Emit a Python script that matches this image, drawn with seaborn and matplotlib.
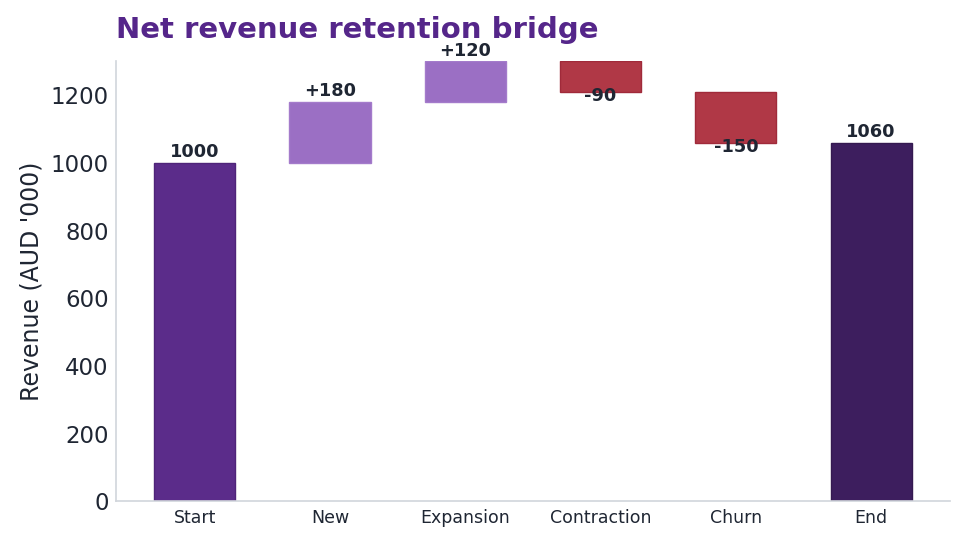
import matplotlib
matplotlib.use("Agg")
import matplotlib.pyplot as plt
import seaborn as sns
import numpy as np

categories = ["Start", "New", "Expansion", "Contraction", "Churn", "End"]
deltas = [1000, 180, 120, -90, -150, 1060]
kinds = ["total", "up", "up", "down", "down", "total"]
labels = ["1000", "+180", "+120", "-90", "-150", "1060"]

colors = {"Start": "#5B2C8A", "End": "#3D1E5E", "up": "#9B6FC4", "down": "#B03846"}
edges = {"Start": "#4F2479", "End": "#341950", "up": "#A47BCB", "down": "#A02A3A"}

# compute bottoms / heights
bottoms, heights = [], []
running = 0
for cat, d, k in zip(categories, deltas, kinds):
    if k == "total":
        bottoms.append(0)
        heights.append(d)
        running = d
    elif d >= 0:
        bottoms.append(running)
        heights.append(d)
        running += d
    else:
        bottoms.append(running + d)
        heights.append(-d)
        running += d

sns.set_style("white")
plt.rcParams["font.family"] = ["DejaVu Sans"]
fig, ax = plt.subplots(figsize=(9.8, 5.57), dpi=100)
fig.subplots_adjust(left=0.118, right=0.969, top=0.89, bottom=0.1)

sns.barplot(x=categories, y=heights, bottom=bottoms, width=0.6, ax=ax,
            color="#9B6FC4", linewidth=1)

for patch, cat, k in zip(ax.patches, categories, kinds):
    key = cat if k == "total" else k
    patch.set_facecolor(colors[key])
    patch.set_edgecolor(edges[key])

text_color = "#1F2633"
for i, (b, h, k, lab) in enumerate(zip(bottoms, heights, kinds, labels)):
    if k == "down":
        ax.annotate(lab, (i, b), xytext=(0, -3), textcoords="offset points",
                    ha="center", va="center", fontsize=12.8, fontweight="bold", color=text_color)
    else:
        ax.annotate(lab, (i, b + h), xytext=(0, 1), textcoords="offset points",
                    ha="center", va="bottom", fontsize=12.8, fontweight="bold", color=text_color)

ax.set_xlim(-0.585, 5.58)
ax.set_ylim(0, 1300)
ax.set_ylabel("Revenue (AUD '000)", fontsize=17, color=text_color, labelpad=5)
ax.set_xlabel("")
ax.tick_params(axis="y", labelsize=16.5, colors=text_color, length=0, pad=5)
ax.tick_params(axis="x", labelsize=12.5, colors=text_color, length=0, pad=5.5)
ax.set_yticks([0, 200, 400, 600, 800, 1000, 1200])
for s in ["top", "right"]:
    ax.spines[s].set_visible(False)
for s in ["left", "bottom"]:
    ax.spines[s].set_color("#D1D5DB")
    ax.spines[s].set_linewidth(1.2)

ax.set_title("Net revenue retention bridge", loc="left", fontsize=21, fontweight="bold",
             color="#55268A", pad=17)

fig.savefig("out.png", dpi=100)
